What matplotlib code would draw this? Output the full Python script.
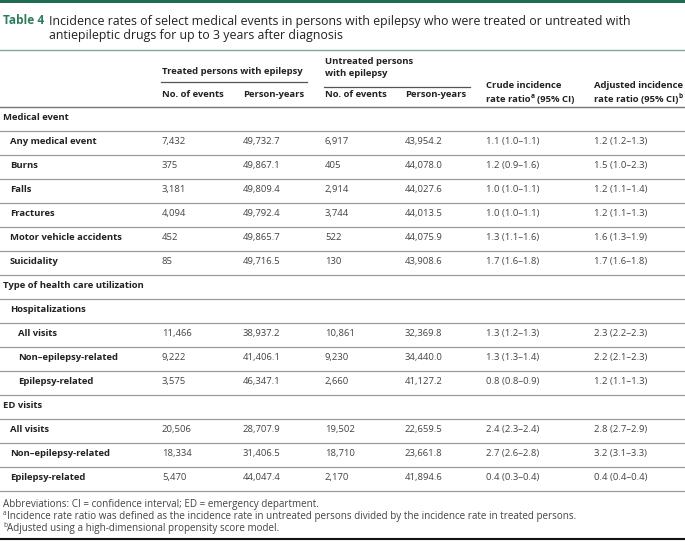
import matplotlib.pyplot as plt

plt.rcParams['font.family'] = ['Open Sans', 'DejaVu Sans']

# Table data
row_labels = ['Medical event', 'Any medical event', 'Burns', 'Falls', 'Fractures',
              'Motor vehicle accidents', 'Suicidality', 'Type of health care utilization',
              'Hospitalizations', 'All visits', 'Non–epilepsy-related', 'Epilepsy-related',
              'ED visits', 'All visits', 'Non–epilepsy-related', 'Epilepsy-related']
row_levels = [0, 1, 1, 1, 1, 1, 1, 0, 1, 2, 2, 2, 0, 1, 1, 1]
treated_events = ['', '7,432', '375', '3,181', '4,094', '452', '85', '', '',
                  '11,466', '9,222', '3,575', '', '20,506', '18,334', '5,470']
treated_py = ['', '49,732.7', '49,867.1', '49,809.4', '49,792.4', '49,865.7', '49,716.5', '', '',
              '38,937.2', '41,406.1', '46,347.1', '', '28,707.9', '31,406.5', '44,047.4']
untreated_events = ['', '6,917', '405', '2,914', '3,744', '522', '130', '', '',
                    '10,861', '9,230', '2,660', '', '19,502', '18,710', '2,170']
untreated_py = ['', '43,954.2', '44,078.0', '44,027.6', '44,013.5', '44,075.9', '43,908.6', '', '',
                '32,369.8', '34,440.0', '41,127.2', '', '22,659.5', '23,661.8', '41,894.6']
crude_irr = ['', '1.1 (1.0–1.1)', '1.2 (0.9–1.6)', '1.0 (1.0–1.1)', '1.0 (1.0–1.1)',
             '1.3 (1.1–1.6)', '1.7 (1.6–1.8)', '', '', '1.3 (1.2–1.3)', '1.3 (1.3–1.4)',
             '0.8 (0.8–0.9)', '', '2.4 (2.3–2.4)', '2.7 (2.6–2.8)', '0.4 (0.3–0.4)']
adjusted_irr = ['', '1.2 (1.2–1.3)', '1.5 (1.0–2.3)', '1.2 (1.1–1.4)', '1.2 (1.1–1.3)',
                '1.6 (1.3–1.9)', '1.7 (1.6–1.8)', '', '', '2.3 (2.2–2.3)', '2.2 (2.1–2.3)',
                '1.2 (1.1–1.3)', '', '2.8 (2.7–2.9)', '3.2 (3.1–3.3)', '0.4 (0.4–0.4)']
footnote_marks = ['', 'a', 'b']
footnotes = ['Abbreviations: CI = confidence interval; ED = emergency department.',
             'Incidence rate ratio was defined as the incidence rate in untreated persons divided by the incidence rate in treated persons.',
             'Adjusted using a high-dimensional propensity score model.']

W, H = 685, 542
fig = plt.figure(figsize=(W / 100, H / 100), dpi=100)
ax = fig.add_axes([0, 0, 1, 1])
ax.set_xlim(0, W)
ax.set_ylim(H, 0)
ax.axis('off')
renderer = fig.canvas.get_renderer()

green = '#1f6b4e'
dark = '#222222'
body = '#444444'
rule = '#9a9a9a'


def x_right(t):
    bb = t.get_window_extent(renderer)
    return ax.transData.inverted().transform((bb.x1, bb.y0))[0]


# Title block
ax.axhspan(0, 3, color=green, lw=0)
ax.text(3, 21, 'Table 4', color='#2d7d5c', fontsize=8.6, fontweight='bold', va='center')
ax.text(49, 21, 'Incidence rates of select medical events in persons with epilepsy who were treated or untreated with',
        color=dark, fontsize=8.9, va='center')
ax.text(49, 36, 'antiepileptic drugs for up to 3 years after diagnosis', color=dark, fontsize=8.9, va='center')
ax.plot([0, W], [50, 50], color='#7fa696', lw=1.0)

# Column header (columns sized to content, like the source table)
cols = [162, 243, 325, 405, 486, 594]
hfs = 6.8
hkw = dict(fontsize=hfs, fontweight='bold', color=dark, va='center')
ax.text(cols[0], 72, 'Treated persons with epilepsy', **hkw)
ax.plot([161, 307], [81.5, 81.5], color='#555555', lw=0.9)
ax.text(cols[2], 61, 'Untreated persons', **hkw)
ax.text(cols[2], 73, 'with epilepsy', **hkw)
ax.plot([324, 470], [86.5, 86.5], color='#555555', lw=0.9)
for c, t in zip(cols[:4], ['No. of events', 'Person-years', 'No. of events', 'Person-years']):
    ax.text(c, 94.5, t, **hkw)
ax.text(cols[4], 86, 'Crude incidence', **hkw)
t1 = ax.text(cols[4], 99, 'rate ratio', **hkw)
s1 = ax.text(x_right(t1) + 0.5, 96, 'a', fontsize=4.8, fontweight='bold', color=dark, va='center')
ax.text(x_right(s1) + 2.5, 99, '(95% CI)', **hkw)
ax.text(cols[5], 86, 'Adjusted incidence', **hkw)
t2 = ax.text(cols[5], 99, 'rate ratio (95% CI)', **hkw)
ax.text(x_right(t2) + 0.5, 96, 'b', fontsize=4.8, fontweight='bold', color=dark, va='center')

# Body rows
y0, pitch = 106.7, 24.0
indent = {0: 3, 1: 10, 2: 18}
ax.plot([0, W], [y0, y0], color='#777777', lw=1.0)
for i, lab in enumerate(row_labels):
    top = y0 + i * pitch
    yc = top + pitch / 2 - 0.8
    ax.text(indent[row_levels[i]], yc, lab, **hkw)
    vals = [treated_events[i], treated_py[i], untreated_events[i], untreated_py[i], crude_irr[i], adjusted_irr[i]]
    for c, v in zip(cols, vals):
        ax.text(c, yc, v, fontsize=hfs, color=body, va='center')
    ax.plot([0, W], [top + pitch, top + pitch], color=rule, lw=0.9)

# Footnotes
for k, (m, note) in enumerate(zip(footnote_marks, footnotes)):
    y = 504 + k * 12
    if m:
        ax.text(3, y - 2.5, m, fontsize=4.8, color=body, va='center')
        ax.text(7, y, note, fontsize=7.1, color=body, va='center')
    else:
        ax.text(3, y, note, fontsize=7.1, color=body, va='center')
ax.plot([0, W], [539, 539], color='#111111', lw=1.5)

fig.savefig('out.png', dpi=100)
